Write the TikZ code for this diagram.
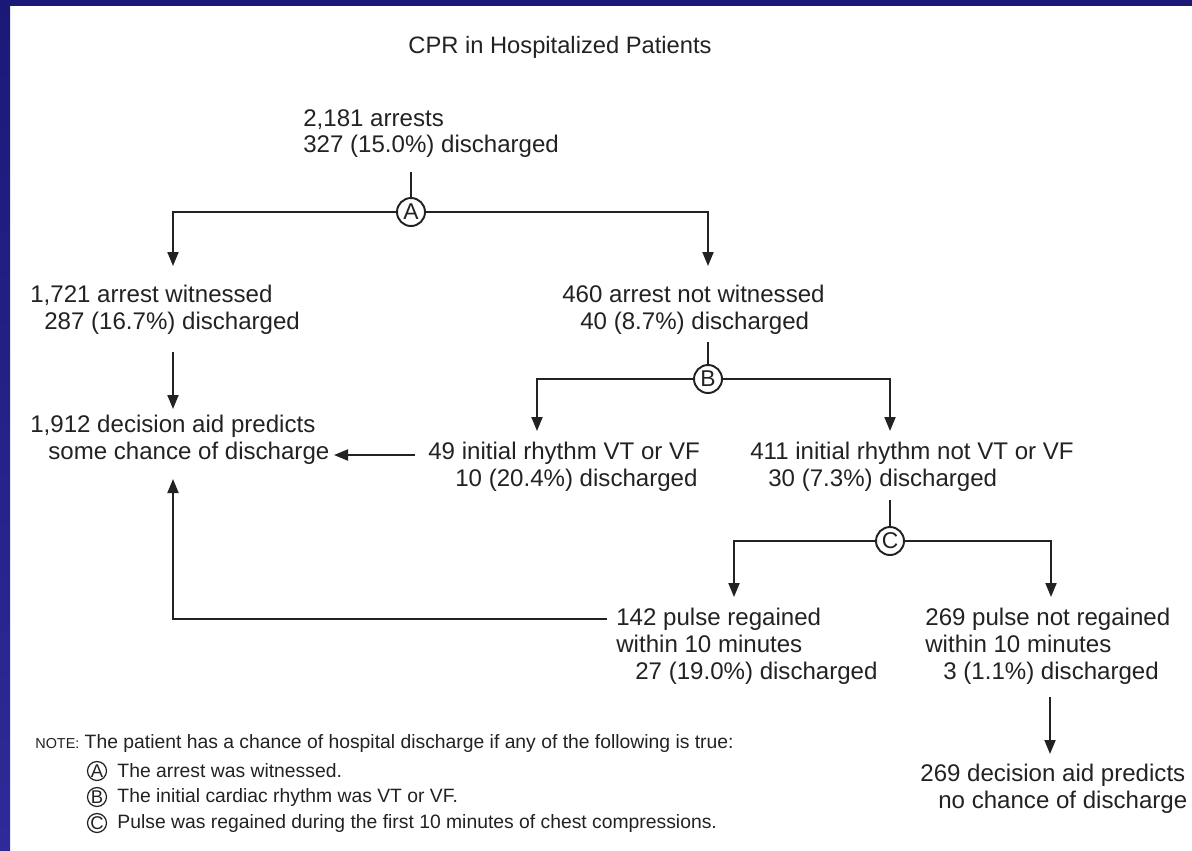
\documentclass[tikz,border=0pt]{standalone}
\usepackage{fontspec}
\setmainfont{Liberation Sans}
\usetikzlibrary{arrows.meta,positioning}

\definecolor{slideblue}{HTML}{1B1978}
\definecolor{slidebluelow}{HTML}{2E2A98}
\definecolor{ink}{HTML}{222222}

\begin{document}
\begin{tikzpicture}[x=0.02cm,y=-0.02cm,
  txt/.style={inner sep=0,align=left,anchor=north west,text=ink,font=\fontsize{13.7}{15.2}\selectfont},
  notetxt/.style={inner sep=0,anchor=west,text=ink,font=\fontsize{11}{13}\selectfont},
  split/.style={circle,draw=ink,line width=1.1pt,fill=white,minimum size=0.56cm,inner sep=0,text=ink,font=\fontsize{13}{15}\selectfont},
  notesplit/.style={circle,draw=ink,line width=0.7pt,minimum size=0.38cm,inner sep=0,text=ink,font=\fontsize{10.5}{12}\selectfont},
  link/.style={draw=ink,line width=1.1pt},
  arr/.style={link,-{Triangle[length=0.28cm,width=0.22cm]}}]
\useasboundingbox (0,0) rectangle (1192,850);
\fill[white] (0,0) rectangle (1192,850);
\shade[top color=slideblue,bottom color=slidebluelow] (0,0) rectangle (10,850);
\fill[slideblue] (0,0) rectangle (1192,6);

\node[text=ink,font=\fontsize{13.5}{15}\selectfont] (title) at (560,47) {CPR in Hospitalized Patients};

\node[txt] (arrests) at (303,109) {2,181 arrests\\327 (15.0\%) discharged};
\node[txt] (witnessed) at (30,285) {1,721 arrest witnessed\\\hspace*{0.28cm}287 (16.7\%) discharged};
\node[txt] (notwitnessed) at (562,285) {460 arrest not witnessed\\\hspace*{0.36cm}40 (8.7\%) discharged};
\node[txt] (somechance) at (30,415) {1,912 decision aid predicts\\\hspace*{0.36cm}some chance of discharge};
\node[txt] (vtvf) at (428,442) {49 initial rhythm VT or VF\\\hspace*{0.54cm}10 (20.4\%) discharged};
\node[txt] (notvtvf) at (750,442) {411 initial rhythm not VT or VF\\\hspace*{0.36cm}30 (7.3\%) discharged};
\node[txt] (regained) at (616,608) {142 pulse regained\\within 10 minutes\\\hspace*{0.38cm}27 (19.0\%) discharged};
\node[txt] (notregained) at (925,608) {269 pulse not regained\\within 10 minutes\\\hspace*{0.36cm}3 (1.1\%) discharged};
\node[txt] (nochance) at (920,764) {269 decision aid predicts\\\hspace*{0.36cm}no chance of discharge};

\node[split] (A) at (411,212) {A};
\node[split] (B) at (708,379) {B};
\node[split] (C) at (890,541) {C};

\coordinate (arrestsfoot) at (411,172);
\coordinate (witin) at (173,266);
\coordinate (notwitin) at (708,266);
\coordinate (notwitfoot) at (708,342);
\coordinate (vtvfin) at (537,431);
\coordinate (notvtvfin) at (890,431);
\coordinate (witfoot) at (173,352);
\coordinate (somein) at (173,409);
\coordinate (vtvfout) at (415,455);
\coordinate (someright) at (334,455);
\coordinate (notvtvffoot) at (890,500);
\coordinate (regin) at (734,597);
\coordinate (notregin) at (1051,597);
\coordinate (regout) at (607,619);
\coordinate (somebelow) at (173,479);
\coordinate (notregfoot) at (1050,697);
\coordinate (nonein) at (1050,754);

\draw[link] (arrestsfoot) -- (A);
\draw[arr] (A) -| (witin);
\draw[arr] (A) -| (notwitin);
\draw[link] (notwitfoot) -- (B);
\draw[arr] (B) -| (vtvfin);
\draw[arr] (B) -| (notvtvfin);
\draw[arr] (witfoot) -- (somein);
\draw[arr] (vtvfout) -- (someright);
\draw[link] (notvtvffoot) -- (C);
\draw[arr] (C) -| (regin);
\draw[arr] (C) -| (notregin);
\draw[arr] (regout) -| (somebelow);
\draw[arr] (notregfoot) -- (nonein);

\node[notetxt] (note) at (35,743) {{\fontsize{8.2}{10}\selectfont NOTE:} The patient has a chance of hospital discharge if any of the following is true:};
\node[notesplit] (noteA) at (97,771) {A};
\node[notetxt,right=0.2cm of noteA] (noteAtxt) {The arrest was witnessed.};
\node[notesplit] (noteB) at (97,797) {B};
\node[notetxt,right=0.2cm of noteB] (noteBtxt) {The initial cardiac rhythm was VT or VF.};
\node[notesplit] (noteC) at (97,823) {C};
\node[notetxt,right=0.2cm of noteC] (noteCtxt) {Pulse was regained during the first 10 minutes of chest compressions.};
\end{tikzpicture}
\end{document}
